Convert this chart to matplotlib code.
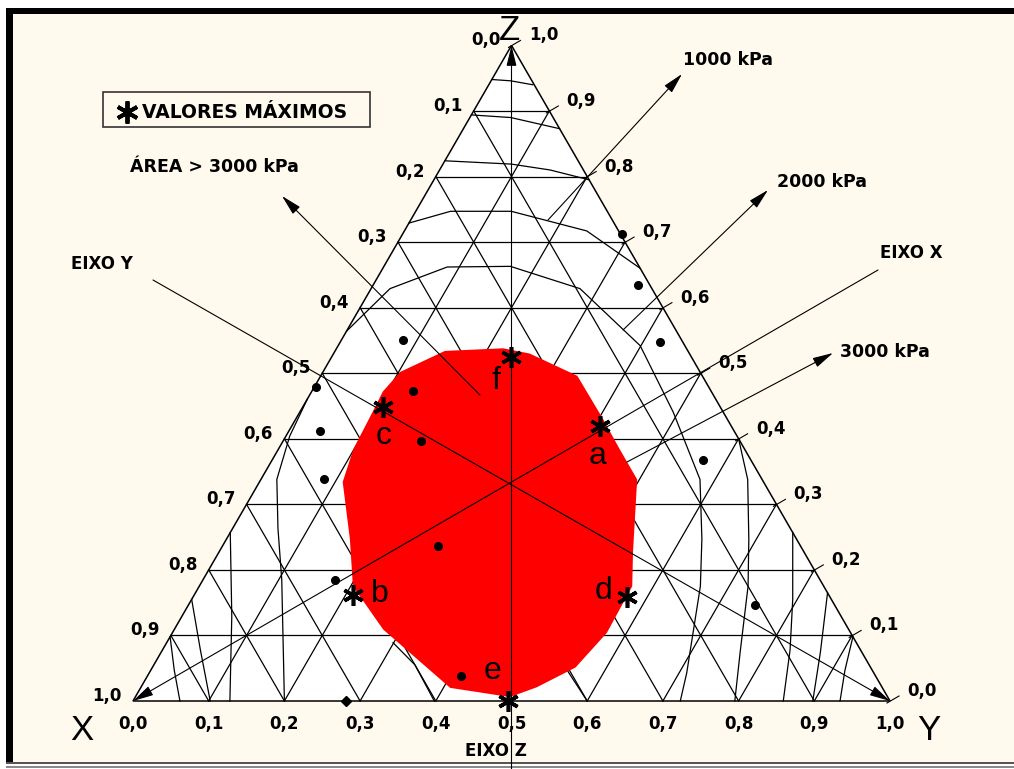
import numpy as np
import matplotlib
matplotlib.use("Agg")
import matplotlib.pyplot as plt
from matplotlib.patches import Polygon, Rectangle

W, H = 1014, 769
R3 = np.sqrt(3) / 2

# ternary points are written as (y, z); x = 1 - y - z
red_area = [(0.145, 0.534), (0.220, 0.538), (0.259, 0.530), (0.339, 0.496),
            (0.406, 0.430), (0.451, 0.384), (0.497, 0.338), (0.547, 0.227),
            (0.572, 0.175), (0.574, 0.104), (0.559, 0.051), (0.523, 0.021),
            (0.495, 0.006), (0.409, 0.020), (0.276, 0.109), (0.203, 0.175),
            (0.163, 0.247), (0.110, 0.334), (0.099, 0.384), (0.096, 0.441),
            (0.094, 0.472), (0.102, 0.502)]

max_names = ['a', 'b', 'c', 'd', 'e', 'f']
max_y = [0.407, 0.210, 0.106, 0.574, 0.495, 0.237]
max_z = [0.420, 0.162, 0.449, 0.158, 0.000, 0.525]

dot_y = [0.081, 0.133, 0.182, 0.285, 0.414, 0.002, 0.041, 0.083, 0.175,
         0.290, 0.350, 0.422, 0.569, 0.748]
dot_z = [0.551, 0.473, 0.397, 0.236, 0.038, 0.479, 0.412, 0.338, 0.184,
         0.712, 0.634, 0.548, 0.368, 0.147]
base_y, base_z = [0.281], [0.0]

# isolines
iso_top = [
    [(0.0, 0.948), (0.026, 0.946), (0.058, 0.940)],
    [(0.0, 0.894), (0.054, 0.890), (0.127, 0.873)],
    [(0.0, 0.824), (0.090, 0.819), (0.146, 0.810), (0.205, 0.795)],
    [(0.0, 0.729), (0.046, 0.747), (0.126, 0.747), (0.241, 0.717), (0.340, 0.660)],
    [(0.0, 0.564), (0.025, 0.629), (0.084, 0.662), (0.167, 0.663), (0.276, 0.629),
     (0.399, 0.542), (0.493, 0.441), (0.580, 0.338), (0.628, 0.247),
     (0.662, 0.175), (0.710, 0.043), (0.723, 0.0)],
]
iso_x = [
    [(0.0, 0.098), (0.031, 0.047), (0.062, 0.0)],
    [(0.0, 0.155), (0.050, 0.078), (0.102, 0.0)],
    [(0.0, 0.257), (0.033, 0.193), (0.066, 0.129), (0.128, 0.0)],
    [(0.0, 0.461), (0.005, 0.404), (0.021, 0.338), (0.060, 0.263), (0.104, 0.185), (0.200, 0.0)],
]
iso_y = [
    [(0.600, 0.400), (0.643, 0.338), (0.690, 0.247), (0.725, 0.175), (0.765, 0.074), (0.795, 0.0)],
    [(0.743, 0.257), (0.794, 0.155), (0.829, 0.078), (0.859, 0.0)],
    [(0.835, 0.165), (0.871, 0.074), (0.898, 0.0)],
    [(0.902, 0.098), (0.917, 0.047), (0.934, 0.0)],
]
iso_base = [
    [(0.299, 0.089), (0.345, 0.055), (0.398, 0.0)],
    [(0.533, 0.063), (0.600, 0.0)],
]

ticks = np.round(np.arange(0, 11) / 10, 1)


def cart(y, z):
    y = np.asarray(y, dtype=float)
    z = np.asarray(z, dtype=float)
    return y + z / 2, z * R3


def px(u, v):
    # screen position (from top-left) to data units
    return (u - 133) / 757, (701 - v) / 757


def lab(v):
    return f"{v:.1f}".replace('.', ',')


plt.rcParams['font.family'] = ['DejaVu Sans']
fig = plt.figure(figsize=(W / 100, H / 100), dpi=100, facecolor='white')


def frame_rect(x0, y0, x1, y1, color, z=-10):
    fig.patches.append(Rectangle((x0 / W, 1 - y1 / H), (x1 - x0) / W, (y1 - y0) / H,
                                 transform=fig.transFigure, facecolor=color,
                                 edgecolor='none', zorder=z))


frame_rect(13, 14, W, 763, '#fff9ee')
frame_rect(6, 8, W, 14, 'black')
frame_rect(6, 8, 13, 763, 'black')
frame_rect(6, 762, W, 764, '#555555')
frame_rect(6, 766, W, 768, '#8a8a8a')

ax = fig.add_axes([0, 0, 1, 1])
ax.set_xlim(-133 / 757, (W - 133) / 757)
ax.set_ylim(-(H - 701) / 757, 701 / 757)
ax.set_facecolor('none')
ax.axis('off')

# triangle
tri = np.array([[0, 0], [1, 0], [0.5, R3]])
ax.add_patch(Polygon(tri, closed=True, facecolor='white', edgecolor='black', lw=1.1, zorder=1))

lw = 0.9
for t in ticks[1:-1]:
    for seg in ([(0, t), (1 - t, t)], [(t, 0), (t, 1 - t)], [(0, 1 - t), (1 - t, 0)]):
        xs, ys = cart(*zip(*seg))
        ax.plot(xs, ys, color='black', lw=lw, zorder=2)

for curve in iso_top + iso_x + iso_y + iso_base:
    xs, ys = cart(*zip(*curve))
    ax.plot(xs, ys, color='black', lw=lw, zorder=2)

# region above 3000 kPa
rx, ry = cart(*zip(*red_area))
ax.add_patch(Polygon(np.column_stack([rx, ry]), closed=True, facecolor='#ff0000',
                     edgecolor='none', zorder=3))

# edge ticks on the Z scale
for t in ticks:
    x0, y0 = cart(1 - t, t)
    ax.plot([x0 - 3 / 757, x0 + 9 / 757], [y0 - 2 / 757, y0 + 5 / 757], color='black', lw=0.8, zorder=4)

# axis lines through the centroid
arrow_kw = dict(arrowstyle='-|>,head_length=0.9,head_width=0.22', color='black',
                lw=0.8, shrinkA=0, shrinkB=0, mutation_scale=14)
ax.annotate('', xy=(0, 0), xytext=px(878, 270), arrowprops=arrow_kw, zorder=5)
ax.annotate('', xy=(1, 0), xytext=px(153, 280), arrowprops=arrow_kw, zorder=5)
ax.annotate('', xy=(0.5, R3), xytext=(0.5, -(H - 701) / 757), arrowprops=arrow_kw, zorder=5)

# pointers for isolines
ax.annotate('', xy=px(282, 196), xytext=px(480, 395), arrowprops=arrow_kw, zorder=5)
ax.annotate('', xy=px(682, 74), xytext=px(548, 220), arrowprops=arrow_kw, zorder=5)
ax.annotate('', xy=px(768, 190), xytext=px(623, 330), arrowprops=arrow_kw, zorder=5)
ax.annotate('', xy=px(833, 353), xytext=px(627, 462), arrowprops=arrow_kw, zorder=5)

# sample points
dx, dy = cart(dot_y, dot_z)
ax.plot(dx, dy, 'o', color='black', ms=5.5, zorder=6)
bx, by = cart(base_y, base_z)
ax.plot(bx, by, 'D', color='black', ms=5.5, zorder=6)

# maximum values
mx, my = cart(max_y, max_z)
ast = (6, 2, 0)
ax.plot(mx, my, ls='none', marker=ast, ms=15, mew=2.6, color='black', zorder=7)
name_off = {'a': (-3, -30), 'b': (27, 1), 'c': (0, -29), 'd': (-24, 6), 'e': (-15, 30), 'f': (-15, -24)}
for n, xx, yy in zip(max_names, mx, my):
    ax.annotate(n, (xx, yy), xytext=name_off[n], textcoords='offset pixels',
                ha='center', va='center', fontsize=23, family='Liberation Sans', zorder=8)

# scale labels
num_kw = dict(fontsize=12, fontweight='bold', ha='center', va='center',
              textcoords='offset pixels', zorder=8)
for t in ticks:
    ax.annotate(lab(t), cart(t, 0), xytext=(0, -23), **num_kw)
    ax.annotate(lab(t), cart(0, 1 - t), xytext=(-26, 5), **num_kw)
    ax.annotate(lab(t), cart(1 - t, t), xytext=(32, 10), **num_kw)

big_kw = dict(fontsize=25, family='Liberation Sans', ha='center', va='center', zorder=8)
ax.text(*px(82, 730), 'X', **big_kw)
ax.text(*px(929, 730), 'Y', **big_kw)
ax.text(*px(509, 31), 'Z', **big_kw)

bold_kw = dict(fontsize=12.5, fontweight='bold', ha='left', va='center', zorder=8)
ax.text(*px(130, 167), 'ÁREA > 3000 kPa', **bold_kw)
ax.text(*px(683, 60), '1000 kPa', **bold_kw)
ax.text(*px(777, 182), '2000 kPa', **bold_kw)
ax.text(*px(840, 352), '3000 kPa', **bold_kw)

axis_kw = dict(fontsize=12, fontweight='bold', ha='left', va='center', zorder=8)
ax.text(*px(71, 264), 'EIXO Y', **axis_kw)
ax.text(*px(880, 253), 'EIXO X', **axis_kw)
ax.text(*px(496, 751), 'EIXO Z', fontsize=12, fontweight='bold', ha='center', va='center', zorder=8)

# legend box
lx0, ly0 = px(103, 127)
lx1, ly1 = px(370, 92)
ax.add_patch(Rectangle((lx0, ly0), lx1 - lx0, ly1 - ly0, facecolor='none',
                       edgecolor='#333333', lw=1.2, zorder=8))
ax.plot(*px(127, 112), ls='none', marker=ast, ms=16, mew=2.8, color='black', zorder=9)
ax.text(*px(142, 113), 'VALORES MÁXIMOS', fontsize=13.5, fontweight='bold',
        ha='left', va='center', zorder=9)

fig.savefig('out.png', dpi=100, facecolor='white')
